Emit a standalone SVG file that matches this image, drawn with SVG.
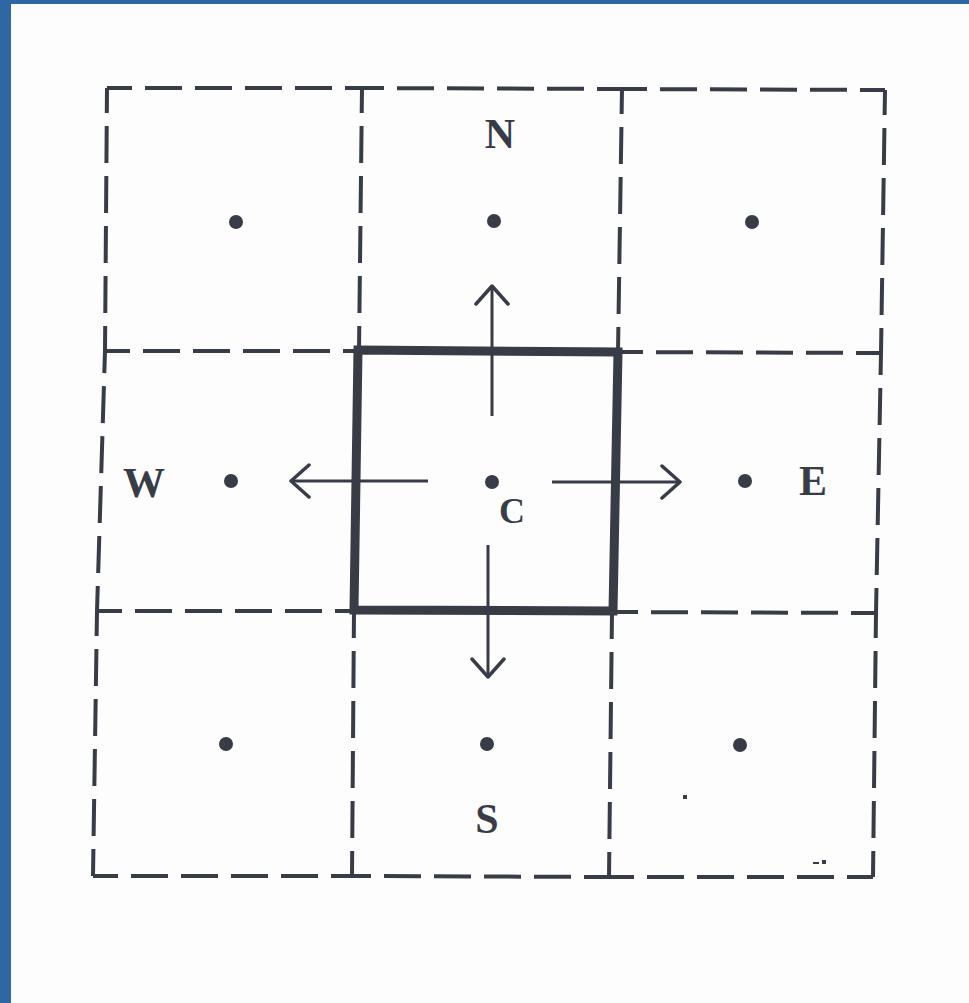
<svg xmlns="http://www.w3.org/2000/svg" width="969" height="1003" viewBox="0 0 969 1003">
  <style>
    .grid { fill: none; stroke: #383c47; stroke-width: 4; stroke-dasharray: 37 13; stroke-dashoffset: 12; }
    .thick { fill: none; stroke: #383c47; stroke-width: 9; stroke-linejoin: miter; }
    .arrow { fill: none; stroke: #383c47; stroke-width: 3; }
    .dot { fill: #383c47; }
    .lbl { font-family: "Liberation Serif", "Times New Roman", serif; font-size: 42px; font-weight: bold; fill: #383c47; text-anchor: middle; }
    .speck { fill: #383c47; }
  </style>
  <defs>
    <marker id="chev" markerUnits="userSpaceOnUse" viewBox="0 0 22 36" refX="20" refY="18" markerWidth="22" markerHeight="36" orient="auto">
      <path d="M2,2 L20,18 L2,34" fill="none" stroke="#383c47" stroke-width="3.5" stroke-linecap="round" stroke-linejoin="round"/>
    </marker>
  </defs>

  <rect x="0" y="0" width="969" height="1003" fill="#fdfdfd"/>
  <rect id="frame-top" x="0" y="0" width="969" height="4" fill="#2d68a5"/>
  <rect id="frame-left" x="0" y="0" width="11" height="1003" fill="#2d68a5"/>

  <g id="grid">
    <line class="grid" x1="107" y1="88" x2="362" y2="88"/>
    <line class="grid" x1="622" y1="89" x2="362" y2="88"/>
    <line class="grid" x1="622" y1="89" x2="885" y2="90"/>
    <line class="grid" x1="105" y1="351" x2="359" y2="351"/>
    <line class="grid" x1="881" y1="353" x2="618" y2="352"/>
    <line class="grid" x1="97" y1="611" x2="354" y2="611"/>
    <line class="grid" x1="876" y1="613" x2="612" y2="612"/>
    <line class="grid" x1="93" y1="876" x2="352" y2="876"/>
    <line class="grid" x1="609" y1="877" x2="352" y2="876"/>
    <line class="grid" x1="609" y1="877" x2="873" y2="877"/>
    <line class="grid" x1="107" y1="88" x2="105" y2="351"/>
    <line class="grid" x1="97" y1="611" x2="105" y2="351"/>
    <line class="grid" x1="97" y1="611" x2="93" y2="876"/>
    <line class="grid" x1="362" y1="88" x2="359" y2="351"/>
    <line class="grid" x1="352" y1="876" x2="354" y2="611"/>
    <line class="grid" x1="622" y1="89" x2="618" y2="352"/>
    <line class="grid" x1="609" y1="877" x2="612" y2="612"/>
    <line class="grid" x1="885" y1="90" x2="881" y2="353"/>
    <line class="grid" x1="876" y1="613" x2="881" y2="353"/>
    <line class="grid" x1="876" y1="613" x2="873" y2="877"/>
  </g>

  <g id="node-C">
    <polygon class="thick" points="358,350 618,352 613,611 354,610"/>
    <circle class="dot" cx="492" cy="482" r="7"/>
    <text class="lbl" x="512" y="523" style="font-size:36px">C</text>
  </g>
  <g id="node-N">
    <circle class="dot" cx="494" cy="221" r="7"/>
    <text class="lbl" x="500" y="148">N</text>
  </g>
  <g id="node-S">
    <circle class="dot" cx="487" cy="744" r="7"/>
    <text class="lbl" x="487" y="833">S</text>
  </g>
  <g id="node-W">
    <circle class="dot" cx="231" cy="481" r="7"/>
    <text class="lbl" x="144" y="497">W</text>
  </g>
  <g id="node-E">
    <circle class="dot" cx="745" cy="481" r="7"/>
    <text class="lbl" x="813" y="495">E</text>
  </g>
  <g id="node-NW">
    <circle class="dot" cx="236" cy="222" r="7"/>
  </g>
  <g id="node-NE">
    <circle class="dot" cx="752" cy="222" r="7"/>
  </g>
  <g id="node-SW">
    <circle class="dot" cx="226" cy="744" r="7"/>
  </g>
  <g id="node-SE">
    <circle class="dot" cx="740" cy="745" r="7"/>
  </g>

  <g id="connectors">
    <line class="arrow" x1="492" y1="416" x2="492" y2="286" marker-end="url(#chev)"/>
    <line class="arrow" x1="428" y1="481" x2="291" y2="481" marker-end="url(#chev)"/>
    <line class="arrow" x1="552" y1="482" x2="680" y2="482" marker-end="url(#chev)"/>
    <line class="arrow" x1="488" y1="545" x2="488" y2="677" marker-end="url(#chev)"/>
  </g>

  <g id="specks">
    <rect class="speck" x="683" y="795" width="4" height="4"/>
    <rect class="speck" x="813" y="862" width="6" height="2"/>
    <rect class="speck" x="822" y="860" width="4" height="4"/>
  </g>
</svg>
